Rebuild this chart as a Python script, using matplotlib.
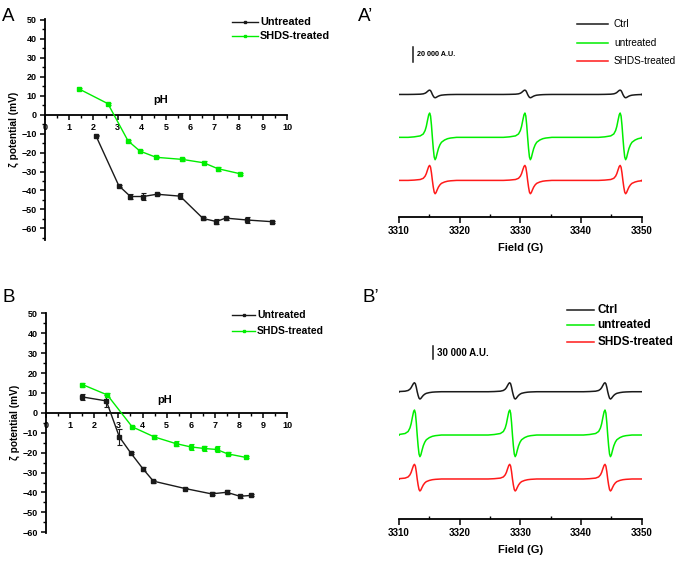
import matplotlib
matplotlib.use("Agg")
import matplotlib.pyplot as plt
from matplotlib.lines import Line2D
from matplotlib.ticker import MultipleLocator
import numpy as np

plt.rcParams['font.family'] = ['Liberation Sans', 'DejaVu Sans']

# ---------------- data: zeta potential panels ----------------
A_untreated_pH = [2.1, 3.05, 3.53, 4.06, 4.62, 5.58, 6.53, 7.08, 7.46, 8.35, 9.39]
A_untreated_zeta = [-11.0, -37.5, -43.2, -43.2, -42.0, -43.0, -54.8, -56.4, -54.6, -55.6, -56.5]
A_untreated_err = [0.5, 0.6, 1.5, 1.8, 0.6, 1.6, 0.6, 1.5, 0.8, 1.5, 0.6]
A_shds_pH = [1.42, 2.6, 3.43, 3.92, 4.59, 5.67, 6.56, 7.14, 8.07]
A_shds_zeta = [13.5, 5.8, -13.8, -19.2, -22.5, -23.6, -25.4, -28.5, -31.2]
A_shds_err = [0.5, 0.5, 0.6, 0.6, 0.6, 0.6, 0.7, 1.0, 0.6]

B_untreated_pH = [1.5, 2.5, 3.04, 3.51, 4.03, 4.45, 5.76, 6.86, 7.49, 8.04, 8.48]
B_untreated_zeta = [8.0, 6.0, -12.1, -20.1, -28.3, -34.3, -38.0, -40.7, -39.9, -41.9, -41.5]
B_untreated_err = [1.5, 3.0, 3.8, 0.5, 1.0, 0.8, 0.5, 0.8, 1.0, 0.8, 0.5]
B_shds_pH = [1.51, 2.54, 3.57, 4.49, 5.37, 5.99, 6.56, 7.07, 7.53, 8.29]
B_shds_zeta = [14.2, 9.0, -7.0, -12.1, -15.4, -17.1, -17.9, -18.4, -20.6, -22.4]
B_shds_err = [1.0, 1.0, 0.5, 1.0, 1.5, 1.5, 1.2, 1.5, 0.8, 0.5]

x_ticks = [0, 1, 2, 3, 4, 5, 6, 7, 8, 9, 10]
y_ticks = [50, 40, 30, 20, 10, 0, -10, -20, -30, -40, -50, -60]

# ---------------- data: EPR panels ----------------
field_ticks = [3310, 3320, 3330, 3340, 3350]
# normalised derivative line profile (offset in G, relative value)
profile_offset = [-4.0, -3.0, -2.0, -1.5, -1.2, -1.0, -0.8, -0.6, -0.45, -0.3, -0.15, 0.0,
                  0.15, 0.3, 0.45, 0.6, 0.8, 1.0, 1.25, 1.5, 2.0, 2.5, 3.0, 4.0]
profile_value = [0.0, 0.02, 0.06, 0.14, 0.28, 0.45, 0.7, 0.93, 1.0, 0.88, 0.5, 0.0,
                 -0.5, -0.88, -1.0, -0.92, -0.7, -0.5, -0.33, -0.22, -0.12, -0.06, -0.03, 0.0]

Ap_line_centers = [3315.5, 3331.2, 3346.9]
Ap_names = ['Ctrl', 'untreated', 'SHDS-treated']
Ap_baseline = [163000, 105800, 48400]
Ap_pos_amp = [5800, 32400, 20000]
Ap_neg_amp = [4400, 29800, 17800]

Bp_line_centers = [3313.0, 3328.7, 3344.4]
Bp_names = ['Ctrl', 'untreated', 'SHDS-treated']
Bp_baseline = [279400, 184600, 88300]
Bp_pos_amp = [19700, 54700, 32100]
Bp_neg_amp = [16000, 47400, 26300]

BLACK = '#1a1a1a'
GREEN = '#00ee00'
RED = '#ff1a1a'
epr_colors = [BLACK, GREEN, RED]

W, H = 685, 561
fig = plt.figure(figsize=(W / 100, H / 100), dpi=100)


def fx(px):
    return px / W


def fy(py):
    return 1 - py / H


def axes_px(left, top, right, bottom):
    return fig.add_axes([fx(left), fy(bottom), (right - left) / W, (bottom - top) / H])


def zeta_panel(ax, ylim, d1, d2):
    ax.set_xlim(0, 10)
    ax.set_ylim(*ylim)
    for s in ['top', 'right']:
        ax.spines[s].set_visible(False)
    ax.spines['bottom'].set_position(('data', 0))
    for s in ['left', 'bottom']:
        ax.spines[s].set_linewidth(1.3)
        ax.spines[s].set_color('black')
    ax.set_xticks(x_ticks)
    ax.set_yticks(y_ticks)
    ax.xaxis.set_minor_locator(MultipleLocator(0.5))
    ax.yaxis.set_minor_locator(MultipleLocator(5))
    ax.tick_params(which='major', direction='out', length=3.5, width=1.1, labelsize=6.5, pad=2.5)
    ax.tick_params(which='minor', direction='out', length=2, width=1.0)
    for lab in ax.get_xticklabels() + ax.get_yticklabels():
        lab.set_fontweight('bold')
    for (x, y, e), col in [(d1, BLACK), (d2, GREEN)]:
        ax.errorbar(x, y, yerr=e, color=col, lw=1.0, marker='s', ms=2.2, capsize=1.8,
                    elinewidth=0.8, capthick=0.8, clip_on=False, zorder=3)
    ax.set_ylabel('ζ potential (mV)', fontsize=7.3, fontweight='bold', labelpad=2)


# ---------------- Panel A ----------------
axA = axes_px(45, 19.4, 287, 239.7)
zeta_panel(axA, (-66, 50.3),
           (A_untreated_pH, A_untreated_zeta, A_untreated_err),
           (A_shds_pH, A_shds_zeta, A_shds_err))
axA.text(4.8, 7.5, 'pH', fontsize=8, fontweight='bold', ha='center', va='center')

# ---------------- Panel B ----------------
axB = axes_px(46, 312.7, 287.3, 532.9)
zeta_panel(axB, (-60.3, 50.3),
           (B_untreated_pH, B_untreated_zeta, B_untreated_err),
           (B_shds_pH, B_shds_zeta, B_shds_err))
axB.text(4.9, 6.5, 'pH', fontsize=8, fontweight='bold', ha='center', va='center')


def zeta_legend(x0, x1, xt, ys, size):
    for y, col, name in zip(ys, [BLACK, GREEN], ['Untreated', 'SHDS-treated']):
        fig.add_artist(Line2D([fx(x0), fx(x1)], [fy(y), fy(y)], color=col, lw=1.0,
                              transform=fig.transFigure))
        fig.add_artist(Line2D([fx((x0 + x1) / 2)], [fy(y)], color=col, marker='s', ms=2.0,
                              transform=fig.transFigure))
        fig.text(fx(xt), fy(y), name, fontsize=size, fontweight='bold', ha='left', va='center')


zeta_legend(232, 258, 260, [22, 36], 7.8)
zeta_legend(232, 255, 257, [315, 330.7], 7.5)


# ---------------- EPR panels ----------------
def epr_panel(ax, centers, baselines, pos_amp, neg_amp, top_val):
    ax.set_xlim(3310, 3350)
    ax.set_ylim(0, top_val)
    for s in ['top', 'right', 'left']:
        ax.spines[s].set_visible(False)
    ax.spines['bottom'].set_linewidth(1.3)
    ax.set_yticks([])
    ax.set_xticks(field_ticks)
    ax.xaxis.set_minor_locator(MultipleLocator(5))
    ax.tick_params(axis='x', which='major', direction='out', length=4, width=1.1, labelsize=7, pad=2.5)
    ax.tick_params(axis='x', which='minor', direction='in', length=2.5, width=1.0)
    for lab in ax.get_xticklabels():
        lab.set_fontweight('bold')
    ax.set_xlabel('Field (G)', fontsize=8, fontweight='bold', labelpad=5)
    for base, pa, na, col in zip(baselines, pos_amp, neg_amp, epr_colors):
        xs = [3310.0]
        ys = [base]
        for c in centers:
            for o, v in zip(profile_offset, profile_value):
                xs.append(c + o)
                ys.append(base + (pa * v if v > 0 else na * v))
        xs.append(3350.0)
        ys.append(base)
        ax.plot(xs, ys, color=col, lw=1.1, solid_joinstyle='round')


axAp = axes_px(399, 10, 641.7, 216.7)
epr_panel(axAp, Ap_line_centers, Ap_baseline, Ap_pos_amp, Ap_neg_amp, 275600)
axAp.plot([3312.3, 3312.3], [206700, 226700], color=BLACK, lw=1.1)
axAp.text(3312.9, 216700, '20 000 A.U.', fontsize=5.2, fontweight='bold', ha='left', va='center')

axBp = axes_px(399, 290, 641.7, 519.3)
epr_panel(axBp, Bp_line_centers, Bp_baseline, Bp_pos_amp, Bp_neg_amp, 502200)
axBp.plot([3315.55, 3315.55], [350400, 380200], color=BLACK, lw=1.1)
axBp.text(3316.3, 365300, '30 000 A.U.', fontsize=7, fontweight='bold', ha='left', va='center')


def epr_legend(x0, x1, xt, ys, size, weight):
    for y, col, name in zip(ys, epr_colors, Ap_names):
        fig.add_artist(Line2D([fx(x0), fx(x1)], [fy(y), fy(y)], color=col, lw=1.1,
                              transform=fig.transFigure))
        fig.text(fx(xt), fy(y), name, fontsize=size, fontweight=weight, ha='left', va='center')


epr_legend(577, 608, 614, [24, 42.7, 61], 7.2, 'normal')
epr_legend(567, 594, 597.5, [310, 325.3, 341.7], 8.5, 'bold')

# ---------------- panel letters ----------------
fig.text(fx(2), fy(21), 'A', fontsize=13.5, ha='left', va='baseline')
fig.text(fx(358), fy(21), 'A\u2019', fontsize=13.5, ha='left', va='baseline')
fig.text(fx(2), fy(302), 'B', fontsize=13.5, ha='left', va='baseline')
fig.text(fx(362), fy(302), 'B\u2019', fontsize=13.5, ha='left', va='baseline')

fig.savefig('out.png', dpi=100)
